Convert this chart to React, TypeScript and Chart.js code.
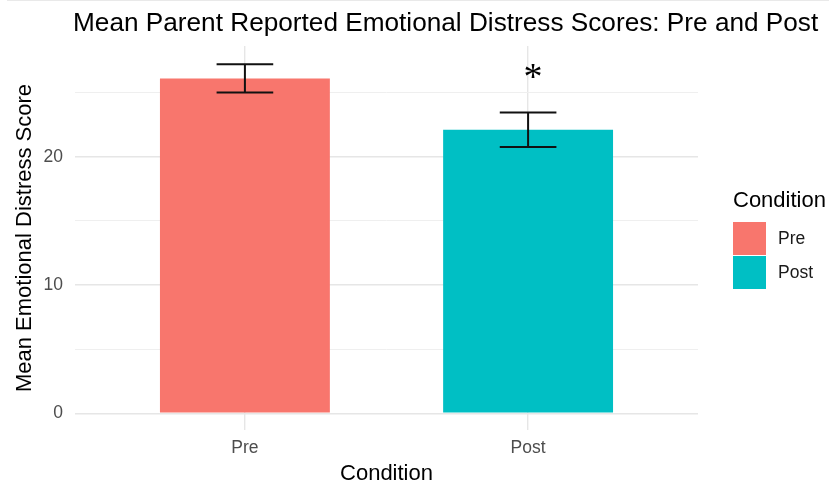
import { useEffect, useRef } from "react";
import { Chart, registerables } from "chart.js";

Chart.register(...registerables);

// Chart content
const TITLE = "Mean Parent Reported Emotional Distress Scores: Pre and Post";
const X_TITLE = "Condition";
const Y_TITLE = "Mean Emotional Distress Score";
const LEGEND_TITLE = "Condition";
const CATEGORIES = ["Pre", "Post"];
const MEANS = [26.1, 22.1];
const STD_ERRORS = [1.1, 1.34];
const BAR_COLORS = ["#F8766D", "#00BFC4"];
const Y_TICKS = [0, 5, 10, 15, 20, 25];
const Y_LIMITS = [-1.3, 28.63];
// significance marker above the Post bar
const SIG_LABEL = "*";
const SIG_CATEGORY = "Post";
const SIG_Y = 26.05;

const SANS = '"Liberation Sans", Arial, sans-serif';
const SERIF = '"Liberation Serif", "Times New Roman", serif';

const errorBarPlugin = {
  id: "errorBars",
  afterDatasetsDraw(chart: any) {
    const { ctx } = chart;
    const xs = chart.scales.x;
    const ys = chart.scales.y;
    const capHalf = xs.getPixelForValue(1.1) - xs.getPixelForValue(1);
    ctx.save();
    ctx.strokeStyle = "#111111";
    ctx.lineWidth = 2;
    CATEGORIES.forEach((_, i) => {
      const x = xs.getPixelForValue(i + 1);
      const yHi = ys.getPixelForValue(MEANS[i] + STD_ERRORS[i]);
      const yLo = ys.getPixelForValue(MEANS[i] - STD_ERRORS[i]);
      ctx.beginPath();
      ctx.moveTo(x, yHi);
      ctx.lineTo(x, yLo);
      ctx.moveTo(x - capHalf, yHi);
      ctx.lineTo(x + capHalf, yHi);
      ctx.moveTo(x - capHalf, yLo);
      ctx.lineTo(x + capHalf, yLo);
      ctx.stroke();
    });
    ctx.restore();
  },
};

const decorPlugin = {
  id: "decor",
  afterDraw(chart: any) {
    const { ctx, chartArea } = chart;
    const xs = chart.scales.x;
    const ys = chart.scales.y;
    ctx.save();

    // plot title, left-aligned with the panel
    ctx.fillStyle = "#000000";
    ctx.font = `26.2px ${SANS}`;
    ctx.textAlign = "left";
    ctx.textBaseline = "alphabetic";
    ctx.fillText(TITLE, chartArea.left - 2, 31);

    // significance marker
    ctx.font = `38px ${SERIF}`;
    ctx.textAlign = "center";
    ctx.textBaseline = "middle";
    const sigIdx = CATEGORIES.indexOf(SIG_CATEGORY);
    ctx.fillText(SIG_LABEL, xs.getPixelForValue(sigIdx + 1) + 5, ys.getPixelForValue(SIG_Y));

    // legend
    const lx = chartArea.right + 35;
    ctx.textAlign = "left";
    ctx.textBaseline = "alphabetic";
    ctx.font = `22px ${SANS}`;
    ctx.fillStyle = "#000000";
    ctx.fillText(LEGEND_TITLE, lx, 207);
    CATEGORIES.forEach((name, i) => {
      const top = 222 + i * 34;
      ctx.fillStyle = BAR_COLORS[i];
      ctx.fillRect(lx, top, 33, 33);
      ctx.fillStyle = "#1a1a1a";
      ctx.font = `17.5px ${SANS}`;
      ctx.textBaseline = "middle";
      ctx.fillText(name, lx + 45, top + 17);
      ctx.textBaseline = "alphabetic";
    });
    ctx.restore();
  },
};

export default function App() {
  const canvasRef = useRef<HTMLCanvasElement | null>(null);

  useEffect(() => {
    const canvas = canvasRef.current;
    if (!canvas) return;
    const chart = new Chart(canvas, {
      type: "bar",
      data: {
        datasets: [
          {
            label: "Mean",
            data: CATEGORIES.map((_, i) => ({ x: i + 1, y: MEANS[i] })) as any,
            backgroundColor: BAR_COLORS,
            borderWidth: 0,
            categoryPercentage: 0.6,
            barPercentage: 1,
          },
        ],
      },
      options: {
        animation: false,
        responsive: false,
        devicePixelRatio: 1,
        layout: { padding: { top: 46, right: 131, left: 0, bottom: 0 } },
        plugins: {
          legend: { display: false },
          title: { display: false },
          tooltip: { enabled: false },
        },
        scales: {
          x: {
            type: "linear",
            min: 0.4,
            max: 2.6,
            offset: false,
            afterBuildTicks: (s: any) => {
              s.ticks = CATEGORIES.map((_, i) => ({ value: i + 1 }));
            },
            afterFit: (s: any) => {
              s.height = 53;
            },
            ticks: {
              callback: (v: any) => CATEGORIES[Number(v) - 1] ?? "",
              color: "#4d4d4d",
              font: { family: SANS, size: 17.5 },
              padding: 8,
              maxRotation: 0,
              autoSkip: false,
            },
            grid: { color: "#e6e6e6", lineWidth: 1.4, drawTicks: false, offset: false },
            border: { display: false },
            title: {
              display: true,
              text: X_TITLE,
              color: "#000000",
              font: { family: SANS, size: 22, lineHeight: 0.82 },
              padding: { top: 0, bottom: 0 },
            },
          },
          y: {
            min: Y_LIMITS[0],
            max: Y_LIMITS[1],
            afterBuildTicks: (s: any) => {
              s.ticks = Y_TICKS.map((v) => ({ value: v }));
            },
            afterFit: (s: any) => {
              s.width = 75;
            },
            ticks: {
              callback: (v: any) => (Number(v) % 10 === 0 ? String(v) : ""),
              color: "#4d4d4d",
              font: { family: SANS, size: 17.5 },
              padding: 12,
            },
            grid: {
              color: (c: any) => (c.tick && c.tick.value % 10 === 0 ? "#e6e6e6" : "#efefef"),
              lineWidth: (c: any) => (c.tick && c.tick.value % 10 === 0 ? 1.4 : 1),
              drawTicks: false,
            },
            border: { display: false },
            title: {
              display: true,
              text: Y_TITLE,
              color: "#000000",
              font: { family: SANS, size: 22, lineHeight: 1 },
              padding: { top: 14, bottom: 0 },
            },
          },
        },
      },
      plugins: [errorBarPlugin, decorPlugin],
    });
    return () => chart.destroy();
  }, []);

  return (
    <div
      style={{
        position: "fixed",
        left: 0,
        top: 0,
        width: 829,
        height: 483,
        background: "#ffffff",
        overflow: "hidden",
      }}
    >
      <div
        style={{
          position: "absolute",
          left: 7,
          right: 0,
          top: 0,
          height: 1,
          background: "#e9e9e9",
        }}
      />
      <canvas ref={canvasRef} width={829} height={483} style={{ display: "block" }} />
    </div>
  );
}
